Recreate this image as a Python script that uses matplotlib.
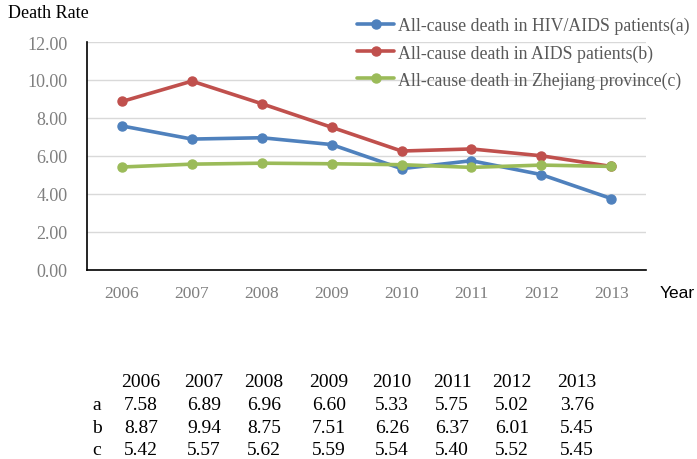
import matplotlib

matplotlib.use("Agg")
import matplotlib.pyplot as plt

years = ["2006", "2007", "2008", "2009", "2010", "2011", "2012", "2013"]
hiv_aids = [7.58, 6.89, 6.96, 6.60, 5.33, 5.75, 5.02, 3.76]
aids = [8.87, 9.94, 8.75, 7.51, 6.26, 6.37, 6.01, 5.45]
zhejiang = [5.42, 5.57, 5.62, 5.59, 5.54, 5.40, 5.52, 5.45]

series = [
    ("a", "All-cause death in HIV/AIDS patients(a)", hiv_aids, "#4F81BD"),
    ("b", "All-cause death in AIDS patients(b)", aids, "#C0504D"),
    ("c", "All-cause death in Zhejiang province(c)", zhejiang, "#9BBB59"),
]

serif = "Liberation Serif"

fig = plt.figure(figsize=(6.97, 4.60), dpi=100)
ax = fig.add_axes([0.125, 0.411, 0.802, 0.4955])

x = list(range(len(years)))
for key, label, values, color in series:
    ax.plot(x, values, color=color, linewidth=2.6, marker="o", markersize=6.5,
            label=label, solid_capstyle="round")

ax.set_xlim(-0.5, len(years) - 0.5)
ax.set_ylim(0, 12)
ax.set_yticks([0, 2, 4, 6, 8, 10, 12])
ax.set_yticklabels([f"{v:.2f}" for v in [0, 2, 4, 6, 8, 10, 12]])
ax.set_xticks(x)
ax.set_xticklabels(years)
ax.tick_params(length=0, colors="#7f7f7f")
ax.tick_params(axis="y", pad=14, labelsize=13)
ax.tick_params(axis="x", pad=11, labelsize=12.5)
for lab in ax.get_xticklabels() + ax.get_yticklabels():
    lab.set_fontfamily(serif)

ax.grid(axis="y", color="#d9d9d9", linewidth=1)
ax.set_axisbelow(True)
for side in ["top", "right"]:
    ax.spines[side].set_visible(False)
ax.spines["left"].set_color("black")
ax.spines["bottom"].set_color("black")
ax.spines["left"].set_linewidth(1.2)
ax.spines["bottom"].set_linewidth(1.2)

fig.text(8 / 697, 1 - 14 / 460, "Death Rate", family=serif, fontsize=13,
         va="center", ha="left")
fig.text(660 / 697, 1 - 293 / 460, "Year", family="Liberation Sans", fontsize=12.5,
         va="center", ha="left")

fig.legend(loc="upper left", bbox_to_anchor=(350 / 697, 1 - 11 / 460),
           frameon=False, prop={"family": serif, "size": 12.8},
           labelcolor="#595959", handlelength=2.1, handletextpad=0.2,
           labelspacing=0.55, borderaxespad=0)

# table of values below the chart
col_x = [141, 204, 264, 329, 392, 452, 512, 577]
row_y = [383, 406, 429, 451]
for cx, yr in zip(col_x, years):
    fig.text(cx / 697, 1 - row_y[0] / 460, yr, family=serif, fontsize=14,
             ha="center", va="center")
for ry, (key, label, values, color) in zip(row_y[1:], series):
    fig.text(97 / 697, 1 - ry / 460, key, family=serif, fontsize=14,
             ha="center", va="center")
    for cx, v in zip(col_x, values):
        fig.text(cx / 697, 1 - ry / 460, f"{v:.2f}", family=serif,
                 fontsize=14, ha="center", va="center")

fig.savefig("out.png", dpi=100)
